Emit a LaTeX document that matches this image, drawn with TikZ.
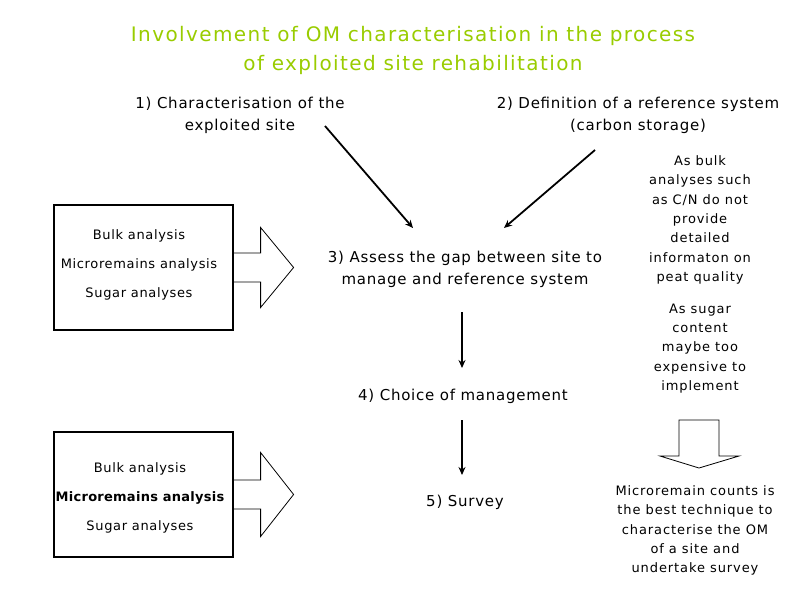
\documentclass[tikz,border=0pt]{standalone}
\usepackage{fontspec}
\setmainfont{DejaVu Sans}
\usetikzlibrary{arrows.meta,calc}
\definecolor{titlegreen}{RGB}{153,204,0}
\begin{document}
\begin{tikzpicture}[x=1pt,y=-1pt,
  ttl/.style={align=center,inner sep=0,text=titlegreen,font=\fontsize{20}{29}\selectfont\addfontfeatures{LetterSpace=7}},
  lbl/.style={align=center,inner sep=0,font=\fontsize{15}{22}\selectfont\addfontfeatures{LetterSpace=5}},
  side/.style={align=center,inner sep=0,font=\fontsize{13}{19.4}\selectfont\addfontfeatures{LetterSpace=7}},
  boxtxt/.style={align=center,inner sep=0,font=\fontsize{13}{15}\selectfont\addfontfeatures{LetterSpace=5}},
  boxbold/.style={align=center,inner sep=0,font=\fontsize{13}{15}\selectfont\bfseries\addfontfeatures{LetterSpace=2}},
  framebox/.style={draw,line width=1.2pt,minimum width=179pt,minimum height=125pt,inner sep=0},
  blockarrow/.style={draw,line width=0.8pt},
  flow/.style={line width=1.8pt,-{Stealth[length=8pt,width=7pt]}}]
\useasboundingbox (0,0) rectangle (791,597);

% title
\node[ttl] (title) at (413,50) {Involvement of OM characterisation in the process\\of exploited site rehabilitation};

% step labels
\node[lbl] (t1) at (240,115) {1) Characterisation of the\\exploited site};
\node[lbl] (t2) at (638,115) {2) Definition of a reference system\\(carbon storage)};
\node[lbl] (t3) at (465,269) {3) Assess the gap between site to\\manage and reference system};
\node[lbl] (t4) at (463,396) {4) Choice of management};
\node[lbl] (t5) at (465,502) {5) Survey};

% boxes
\node[framebox] (box1) at (143.5,267.5) {};
\node[boxtxt] (b1a) at (139,236) {Bulk analysis};
\node[boxtxt] (b1b) at (139,265) {Microremains analysis};
\node[boxtxt] (b1c) at (139,294) {Sugar analyses};

\node[framebox] (box2) at (143.5,494.5) {};
\node[boxtxt] (b2a) at (140,469) {Bulk analysis};
\node[boxbold] (b2b) at (140,498) {Microremains analysis};
\node[boxtxt] (b2c) at (140,527) {Sugar analyses};

% block arrows
\draw[blockarrow] (box1.east) ++(0,-14.5) -- ++(27,0) -- ++(0,-25.5) -- ++(33,40) -- ++(-33,40) -- ++(0,-25.5) -- ++(-27,0);
\draw[blockarrow] (box2.east) ++(0,-14.5) -- ++(27,0) -- ++(0,-27.5) -- ++(33,42) -- ++(-33,42) -- ++(0,-27.5) -- ++(-27,0);

% side notes
\node[side] (n1) at (700,220) {As bulk\\analyses such\\as C/N do not\\provide\\detailed\\informaton on\\peat quality};
\node[side] (n2) at (700,348.5) {As sugar\\content\\maybe too\\expensive to\\implement};
\node[side] (n3) at (695,530.5) {Microremain counts is\\the best technique to\\characterise the OM\\of a site and\\undertake survey};

% down block arrow
\coordinate (dn) at (699,420);
\draw[blockarrow] ($(dn)+(-20,0)$) -- ++(40,0) -- ++(0,36) -- ++(20,0) -- ($(dn)+(0,48)$) -- ++(-39,-12) -- ++(19,0) -- cycle;

% flow arrows
\coordinate (a1s) at (325,126);
\coordinate (a1e) at (413,228);
\coordinate (a2s) at (595,150);
\coordinate (a2e) at (504,228);
\coordinate (v1s) at (462,312);
\coordinate (v1e) at (462,368);
\coordinate (v2s) at (462,420);
\coordinate (v2e) at (462,475);
\draw[flow] (a1s) -- (a1e);
\draw[flow] (a2s) -- (a2e);
\draw[flow] (v1s) -- (v1e);
\draw[flow] (v2s) -- (v2e);
\end{tikzpicture}
\end{document}
